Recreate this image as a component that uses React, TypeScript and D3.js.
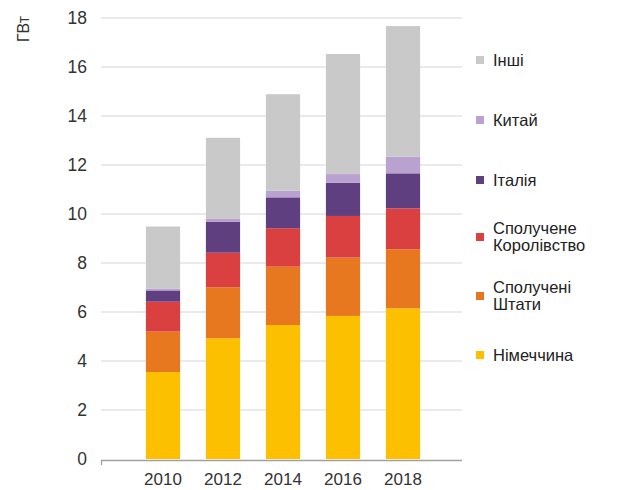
import React from "react";
import * as d3 from "d3";

const years = ["2010", "2012", "2014", "2016", "2018"];
const seriesNames = ["Німеччина", "Сполучені Штати", "Сполучене Королівство", "Італія", "Китай", "Інші"];
const germany = [3.55, 4.93, 5.47, 5.84, 6.15];
const usa = [1.65, 2.08, 2.38, 2.38, 2.41];
const uk = [1.22, 1.41, 1.57, 1.70, 1.67];
const italy = [0.46, 1.27, 1.26, 1.36, 1.43];
const china = [0.08, 0.13, 0.27, 0.35, 0.68];
const others = [2.53, 3.29, 3.94, 4.90, 5.33];
const yTicks = [0, 2, 4, 6, 8, 10, 12, 14, 16, 18];
const colors = ["#FCC000", "#E8781F", "#D9403F", "#5F3F7F", "#B9A1D0", "#C9C9C9"];
const legendLabels: string[][] = [
  ["Інші"],
  ["Китай"],
  ["Італія"],
  ["Сполучене", "Королівство"],
  ["Сполучені", "Штати"],
  ["Німеччина"],
];
const legendColors = ["#C9C9C9", "#B9A1D0", "#5F3F7F", "#D9403F", "#E8781F", "#FCC000"];

export default function App() {
  const W = 625, H = 490;
  const font = "'Liberation Sans', Arial, sans-serif";
  const y = d3.scaleLinear().domain([0, 18]).range([459, 18]);
  const x = d3.scaleBand<string>().domain(years).range([133, 433]).paddingInner(0.43).paddingOuter(0.215);
  const table = years.map((yr, i) => ({
    year: yr,
    [seriesNames[0]]: germany[i],
    [seriesNames[1]]: usa[i],
    [seriesNames[2]]: uk[i],
    [seriesNames[3]]: italy[i],
    [seriesNames[4]]: china[i],
    [seriesNames[5]]: others[i],
  }));
  const stack = d3.stack<any>().keys(seriesNames)(table);
  const legendY = [60, 120, 180, 237, 296, 355];
  const lineH = 17;

  return (
    <svg width={W} height={H} style={{ position: "absolute", left: 0, top: 0, background: "#fff" }}>
      {yTicks.map((t) => (
        <g key={t}>
          {t > 0 && <line x1={101} x2={462} y1={y(t)} y2={y(t)} stroke="#E3E3E3" strokeWidth={1.5} />}
          <text x={87} y={y(t)} dy="0.35em" textAnchor="end" fontFamily={font} fontSize={17.5} fill="#333">
            {t}
          </text>
        </g>
      ))}
      <text
        transform={`translate(23,29) rotate(-90)`}
        textAnchor="middle"
        dy="0.35em"
        fontFamily={font}
        fontSize={16}
        fill="#333"
      >
        ГВт
      </text>
      {stack.map((s, si) => (
        <g key={s.key} fill={colors[si]}>
          {s.map((d, i) => (
            <rect
              key={i}
              x={x(years[i])}
              width={x.bandwidth()}
              y={y(d[1])}
              height={Math.max(0, y(d[0]) - y(d[1]))}
            />
          ))}
        </g>
      ))}
      <path d={`M101.5,465V460.5H462`} fill="none" stroke="#A0A0A0" strokeWidth={1.3} />
      {years.map((yr) => (
        <text
          key={yr}
          x={(x(yr) as number) + x.bandwidth() / 2}
          y={479}
          dy="0.35em"
          textAnchor="middle"
          fontFamily={font}
          fontSize={17}
          fill="#333"
        >
          {yr}
        </text>
      ))}
      {legendLabels.map((lines, i) => {
        const cy = legendY[i];
        const startY = cy - ((lines.length - 1) * lineH) / 2;
        return (
          <g key={i}>
            <rect x={476} y={cy - 4} width={8} height={8} fill={legendColors[i]} />
            {lines.map((ln, j) => (
              <text
                key={j}
                x={493}
                y={startY + j * lineH}
                dy="0.35em"
                fontFamily={font}
                fontSize={16.5}
                fill="#222"
              >
                {ln}
              </text>
            ))}
          </g>
        );
      })}
    </svg>
  );
}
